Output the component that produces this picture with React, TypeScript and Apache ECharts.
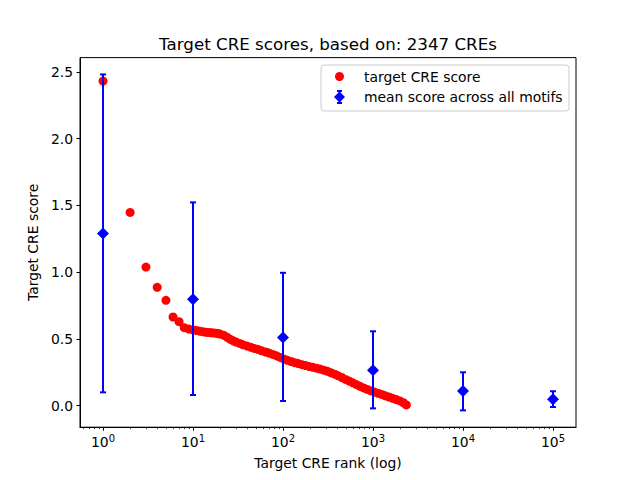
import React, { useEffect, useRef } from "react";
import * as echarts from "echarts";

// Target CRE scores (rank -> score)
const creRanks = [
  1, 2, 3, 4, 5, 6, 7, 8, 9, 10,
  11, 12, 13, 14, 15, 16, 17, 18, 19, 20,
  22, 24, 26, 28, 30, 33, 36, 40, 44, 48,
  53, 58, 64, 70, 77, 85, 93, 102, 112, 123,
  135, 148, 163, 179, 196, 215, 236, 259, 284, 312,
  342, 375, 411, 451, 495, 543, 596, 654, 717, 787,
  863, 947, 1039, 1140, 1250, 1372, 1505, 1651, 1811, 1987,
  2180, 2347,
];
const creScores = [
  2.43, 1.447, 1.038, 0.886, 0.789, 0.664, 0.629, 0.584, 0.574, 0.567,
  0.563, 0.557, 0.553, 0.55, 0.548, 0.546, 0.545, 0.543, 0.54, 0.536,
  0.527, 0.512, 0.497, 0.486, 0.477, 0.466, 0.456, 0.446, 0.437, 0.429,
  0.42, 0.411, 0.402, 0.394, 0.384, 0.373, 0.361, 0.35, 0.34, 0.331,
  0.322, 0.315, 0.307, 0.3, 0.293, 0.287, 0.281, 0.274, 0.266, 0.257,
  0.246, 0.236, 0.224, 0.211, 0.197, 0.184, 0.171, 0.158, 0.145, 0.133,
  0.122, 0.112, 0.102, 0.093, 0.084, 0.074, 0.065, 0.055, 0.046, 0.036,
  0.022, 0.006,
];

// Mean score across all motifs with error bars
const motifRanks = [1, 10, 100, 1000, 10000, 100000];
const motifMeans = [1.29, 0.796, 0.51, 0.265, 0.11, 0.048];
const motifLow = [0.1, 0.08, 0.035, -0.02, -0.035, -0.01];
const motifHigh = [2.48, 1.522, 0.995, 0.557, 0.25, 0.108];

// Axis ticks
const xMajorTicks = [1, 10, 100, 1000, 10000, 100000];
const xTickExponents = ["0", "1", "2", "3", "4", "5"];
const yTicks = [0, 0.5, 1.0, 1.5, 2.0, 2.5];

const X_MIN = 0.555;
const X_MAX = 180000;
const Y_MIN = -0.161;
const Y_MAX = 2.606;

const FONT = "DejaVu Sans";
const FS = 13.9;

export default function App() {
  const ref = useRef<HTMLDivElement>(null);

  useEffect(() => {
    if (!ref.current) return;
    const chart = echarts.init(ref.current, undefined, { renderer: "svg" });

    const minorTicks: number[] = [];
    for (let e = -1; e <= 5; e++) {
      for (let k = 2; k <= 9; k++) {
        const v = k * Math.pow(10, e);
        if (v >= X_MIN && v <= X_MAX) minorTicks.push(v);
      }
    }

    const creData = creRanks.map((r, i) => [r, creScores[i]]);
    const meanData = motifRanks.map((r, i) => [r, motifMeans[i]]);
    const errData = motifRanks.map((r, i) => [r, motifLow[i], motifHigh[i]]);

    const blue = "#0000ff";
    const red = "#ff0000";

    const option: any = {
      animation: false,
      backgroundColor: "#ffffff",
      textStyle: { fontFamily: FONT },
      grid: {
        left: 80,
        right: 64,
        top: 57.6,
        bottom: 52.8,
        show: true,
        borderColor: "#000000",
        borderWidth: 1,
        backgroundColor: "transparent",
        containLabel: false,
        outerBoundsMode: "none",
      },
      xAxis: [
        {
          type: "log",
          logBase: 10,
          min: X_MIN,
          max: X_MAX,
          position: "bottom",
          name: "Target CRE rank (log)",
          nameLocation: "middle",
          nameGap: 29,
          nameTextStyle: { fontSize: FS, fontFamily: FONT, color: "#000" },
          axisLine: { show: true, onZero: false, lineStyle: { color: "#000", width: 1 } },
          axisTick: {
            show: true,
            length: 3.5,
            lineStyle: { color: "#000", width: 1 },
            customValues: xMajorTicks,
          },
          axisLabel: {
            show: true,
            margin: 6,
            customValues: xMajorTicks,
            formatter: (v: number) => {
              const idx = xMajorTicks.findIndex((t) => Math.abs(Math.log10(t) - Math.log10(v)) < 1e-6);
              const ex = idx >= 0 ? xTickExponents[idx] : String(Math.round(Math.log10(v)));
              return "{a|10}{b|" + ex + "}";
            },
            rich: {
              a: { fontSize: FS, fontFamily: FONT, color: "#000", lineHeight: 16, verticalAlign: "bottom" },
              b: {
                fontSize: 10,
                fontFamily: FONT,
                color: "#000",
                lineHeight: 12,
                padding: [0, 0, 6, 0],
                verticalAlign: "bottom",
              },
            },
          },
          splitLine: { show: false },
          minorTick: { show: false },
        },
        {
          type: "log",
          logBase: 10,
          min: X_MIN,
          max: X_MAX,
          position: "bottom",
          axisLine: { show: false, onZero: false },
          axisTick: {
            show: true,
            length: 2,
            lineStyle: { color: "#000", width: 0.7 },
            customValues: minorTicks,
          },
          axisLabel: { show: false },
          splitLine: { show: false },
        },
      ],
      yAxis: {
        type: "value",
        min: Y_MIN,
        max: Y_MAX,
        name: "Target CRE score",
        nameLocation: "middle",
        nameGap: 36,
        nameTextStyle: { fontSize: FS, fontFamily: FONT, color: "#000" },
        axisLine: { show: true, onZero: false, lineStyle: { color: "#000", width: 1 } },
        axisTick: {
          show: true,
          length: 3.5,
          lineStyle: { color: "#000", width: 1 },
          customValues: yTicks,
        },
        axisLabel: {
          show: true,
          margin: 7,
          fontSize: FS,
          fontFamily: FONT,
          color: "#000",
          customValues: yTicks,
          formatter: (v: number) => v.toFixed(1),
        },
        splitLine: { show: false },
      },
      series: [
        {
          name: "target CRE score",
          type: "scatter",
          xAxisIndex: 0,
          data: creData,
          symbol: "circle",
          symbolSize: 9,
          itemStyle: { color: red, opacity: 1 },
          z: 2,
        },
        {
          name: "error",
          type: "custom",
          xAxisIndex: 0,
          data: errData,
          encode: { x: 0, y: [1, 2] },
          z: 3,
          renderItem: (params: any, api: any) => {
            const x = api.value(0);
            const lo = api.value(1);
            const hi = api.value(2);
            const pLo = api.coord([x, lo]);
            const pHi = api.coord([x, hi]);
            const cw = 3;
            const st = { stroke: blue, lineWidth: 2 };
            return {
              type: "group",
              children: [
                { type: "line", shape: { x1: pLo[0], y1: pLo[1], x2: pHi[0], y2: pHi[1] }, style: st },
                { type: "line", shape: { x1: pLo[0] - cw, y1: pLo[1], x2: pLo[0] + cw, y2: pLo[1] }, style: st },
                { type: "line", shape: { x1: pHi[0] - cw, y1: pHi[1], x2: pHi[0] + cw, y2: pHi[1] }, style: st },
              ],
            };
          },
        },
        {
          name: "mean score across all motifs",
          type: "scatter",
          xAxisIndex: 0,
          data: meanData,
          symbol: "diamond",
          symbolSize: 12,
          itemStyle: { color: blue, opacity: 1 },
          z: 4,
        },
      ],
      graphic: [
        {
          type: "text",
          x: 328,
          y: 43.8,
          style: {
            text: "Target CRE scores, based on: 2347 CREs",
            fontSize: 16.7,
            fontFamily: FONT,
            fill: "#000",
            align: "center",
            verticalAlign: "middle",
          },
        },
        {
          type: "rect",
          shape: { x: 321, y: 65, width: 248, height: 46, r: 3 },
          style: { fill: "rgba(255,255,255,0.8)", stroke: "#cccccc", lineWidth: 1 },
          z: 10,
        },
        {
          type: "circle",
          shape: { cx: 339.5, cy: 76.5, r: 4.5 },
          style: { fill: red },
          z: 11,
        },
        {
          type: "text",
          x: 364,
          y: 76.5,
          style: {
            text: "target CRE score",
            fontSize: FS,
            fontFamily: FONT,
            fill: "#000",
            verticalAlign: "middle",
          },
          z: 11,
        },
        {
          type: "line",
          shape: { x1: 339.5, y1: 91, x2: 339.5, y2: 103 },
          style: { stroke: blue, lineWidth: 2 },
          z: 11,
        },
        {
          type: "line",
          shape: { x1: 337, y1: 91, x2: 342, y2: 91 },
          style: { stroke: blue, lineWidth: 2 },
          z: 11,
        },
        {
          type: "line",
          shape: { x1: 337, y1: 103, x2: 342, y2: 103 },
          style: { stroke: blue, lineWidth: 2 },
          z: 11,
        },
        {
          type: "polygon",
          shape: { points: [[339.5, 91.5], [345, 97], [339.5, 102.5], [334, 97]] },
          style: { fill: blue },
          z: 11,
        },
        {
          type: "text",
          x: 364,
          y: 97,
          style: {
            text: "mean score across all motifs",
            fontSize: FS,
            fontFamily: FONT,
            fill: "#000",
            verticalAlign: "middle",
          },
          z: 11,
        },
      ],
    };

    chart.setOption(option);
    return () => {
      chart.dispose();
    };
  }, []);

  return (
    <div
      ref={ref}
      style={{ position: "fixed", left: 0, top: 0, width: 640, height: 480, background: "#fff" }}
    />
  );
}
